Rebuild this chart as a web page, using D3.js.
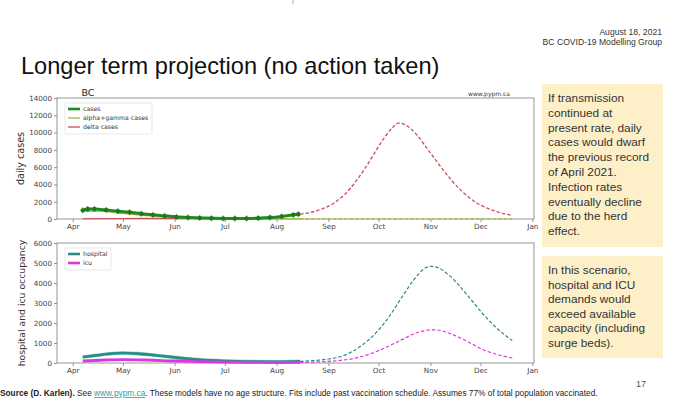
<!DOCTYPE html>
<html><head><meta charset="utf-8">
<script src="https://cdn.jsdelivr.net/npm/d3@7/dist/d3.min.js"></script>
<style>
html,body{margin:0;padding:0;background:#fff;}
svg{display:block;}
</style></head>
<body>
<svg id="c" width="678" height="406"></svg>
<script>
// ---------------- data ----------------
const monthTicks = ["2021-04-01","2021-05-01","2021-06-01","2021-07-01","2021-08-01","2021-09-01","2021-10-01","2021-11-01","2021-12-01","2022-01-01"];
const casesYTicks = [0,2000,4000,6000,8000,10000,12000,14000];
const hospYTicks = [0,1000,2000,3000,4000,5000,6000];

// reported daily cases (weekly markers + thick line)
const casesData = [["2021-04-07",1000],["2021-04-10",1150],["2021-04-14",1150],["2021-04-21",1050],["2021-04-28",900],["2021-05-05",780],["2021-05-12",620],["2021-05-19",480],["2021-05-26",360],["2021-06-02",250],["2021-06-09",180],["2021-06-16",130],["2021-06-23",90],["2021-06-30",65],["2021-07-07",55],["2021-07-14",65],["2021-07-21",100],["2021-07-28",170],["2021-08-04",300],["2021-08-11",480],["2021-08-14",560]];
// alpha+gamma model
const alphaFit = [["2021-04-07",850],["2021-04-15",900],["2021-05-01",650],["2021-05-15",400],["2021-06-01",180],["2021-06-15",80],["2021-07-01",30],["2021-07-15",15],["2021-08-01",10],["2021-08-15",10]];
const alphaProj = [["2021-08-15",10],["2021-09-15",8],["2021-10-15",8],["2021-11-15",6],["2021-12-20",5]];
// delta model
const deltaFit = [["2021-04-07",30],["2021-05-01",60],["2021-06-01",80],["2021-07-01",50],["2021-07-15",90],["2021-08-01",250],["2021-08-15",560]];
const deltaProj = [["2021-08-15",560],["2021-08-21",750],["2021-08-28",1150],["2021-09-04",1800],["2021-09-11",2900],["2021-09-18",4500],["2021-09-25",6500],["2021-10-02",8700],["2021-10-09",10500],["2021-10-13",11100],["2021-10-17",10900],["2021-10-24",9700],["2021-10-31",7900],["2021-11-07",6100],["2021-11-14",4400],["2021-11-21",3000],["2021-11-28",1950],["2021-12-05",1250],["2021-12-12",780],["2021-12-20",420]];
// hospital occupancy
const hospFit = [["2021-04-07",300],["2021-04-15",380],["2021-04-22",450],["2021-05-01",500],["2021-05-10",470],["2021-05-20",390],["2021-06-01",280],["2021-06-15",170],["2021-07-01",100],["2021-07-15",70],["2021-08-01",60],["2021-08-15",80]];
const hospProj = [["2021-08-15",80],["2021-08-22",115],["2021-09-01",200],["2021-09-08",310],["2021-09-15",560],["2021-09-22",950],["2021-10-01",1650],["2021-10-08",2400],["2021-10-15",3300],["2021-10-22",4150],["2021-10-29",4750],["2021-11-01",4830],["2021-11-05",4780],["2021-11-12",4400],["2021-11-19",3800],["2021-11-26",3100],["2021-12-03",2400],["2021-12-10",1800],["2021-12-20",1120]];
// ICU occupancy
const icuFit = [["2021-04-07",100],["2021-04-20",150],["2021-05-01",170],["2021-05-15",150],["2021-06-01",100],["2021-06-15",70],["2021-07-01",45],["2021-07-15",30],["2021-08-01",25],["2021-08-15",30]];
const icuProj = [["2021-08-15",30],["2021-08-22",45],["2021-09-01",80],["2021-09-08",130],["2021-09-15",210],["2021-09-22",350],["2021-10-01",620],["2021-10-08",880],["2021-10-15",1170],["2021-10-22",1450],["2021-10-29",1630],["2021-11-01",1660],["2021-11-05",1650],["2021-11-12",1500],["2021-11-19",1250],["2021-11-26",950],["2021-12-03",650],["2021-12-10",450],["2021-12-20",250]];

const box1Lines = ["If transmission","continued at","present rate, daily","cases would dwarf","the previous record","of April 2021.","Infection rates","eventually decline","due to the herd","effect."];
const box2Lines = ["In this scenario,","hospital and ICU","demands would","exceed available","capacity (including","surge beds)."];

// ---------------- drawing ----------------
const parse = d3.timeParse("%Y-%m-%d");
const svg = d3.select("#c");
const chartFont = "DejaVu Sans, sans-serif";
const slideFont = "Liberation Sans, Arial, sans-serif";

svg.append("rect").attr("width",678).attr("height",406).attr("fill","#fff");

const x = d3.scaleTime()
  .domain([new Date(2021,2,22,14), new Date(2022,0,2)])
  .range([57,534]);
const yTop = d3.scaleLinear().domain([0,14000]).range([219,98]);
const yBot = d3.scaleLinear().domain([0,6000]).range([363,243]);

const C = {cases:"#1f8a1f", alpha:"#a8b836", delta:"#c9505a", hosp:"#2c8c82", icu:"#dd38dd"};

function panel(y, yTicks, ylabel, labelY, fs){
  const g = svg.append("g");
  const [y0,y1] = y.range();
  const xa = g.append("g").attr("transform",`translate(0,${y0})`)
    .call(d3.axisBottom(x).tickValues(monthTicks.map(parse)).tickFormat(d3.timeFormat("%b")).tickSizeOuter(0).tickSizeInner(3).tickPadding(2));
  const ya = g.append("g").attr("transform",`translate(57,0)`)
    .call(d3.axisLeft(y).tickValues(yTicks).tickFormat(d3.format("d")).tickSizeOuter(0).tickSizeInner(3).tickPadding(2));
  [xa,ya].forEach(a=>{
    a.select(".domain").remove();
    a.selectAll("line").attr("stroke","#777").attr("stroke-width",0.8);
    a.selectAll("text").attr("fill","#444").style("font-family",chartFont).style("font-size","7.2px");
  });
  g.append("rect").attr("x",57).attr("y",y1).attr("width",477).attr("height",y0-y1)
    .attr("fill","none").attr("stroke","#8a8a8a").attr("stroke-width",0.9);
  g.append("text").attr("transform",`translate(${labelY},${(y0+y1)/2}) rotate(-90)`)
    .attr("text-anchor","middle").attr("fill","#333")
    .style("font-family",chartFont).style("font-size",fs).text(ylabel);
  return g;
}

const gTop = panel(yTop, casesYTicks, "daily cases", 24, "9.6px");
const gBot = panel(yBot, hospYTicks, "hospital and icu occupancy", 25, "9.3px");

function line(y){ return d3.line().x(d=>x(parse(d[0]))).y(d=>y(d[1])).curve(d3.curveMonotoneX); }

// top panel series
const lt = line(yTop);
gTop.append("path").attr("d",lt(deltaFit)).attr("fill","none").attr("stroke",C.delta).attr("stroke-width",1.2);
gTop.append("path").attr("d",lt(alphaFit)).attr("fill","none").attr("stroke",C.alpha).attr("stroke-width",1.2);
gTop.append("path").attr("d",lt(casesData)).attr("fill","none").attr("stroke",C.cases).attr("stroke-width",3);
gTop.selectAll("circle.c").data(casesData).join("circle")
  .attr("cx",d=>x(parse(d[0]))).attr("cy",d=>yTop(d[1])).attr("r",2.2).attr("fill","#1a7a1a");
gTop.selectAll("line.eb").data(casesData).join("line")
  .attr("x1",d=>x(parse(d[0]))).attr("x2",d=>x(parse(d[0])))
  .attr("y1",d=>yTop(d[1])-3).attr("y2",d=>yTop(d[1])+3).attr("stroke","#1a7a1a").attr("stroke-width",0.8);
gTop.append("path").attr("d",lt(alphaProj)).attr("fill","none").attr("stroke",C.alpha).attr("stroke-width",1.2).attr("stroke-dasharray","3.5,2");
gTop.append("path").attr("d",lt(deltaProj)).attr("fill","none").attr("stroke",C.delta).attr("stroke-width",1.3).attr("stroke-dasharray","3.5,2");

// bottom panel series
const lb = line(yBot);
gBot.append("path").attr("d",lb(hospFit)).attr("fill","none").attr("stroke","#7fd6d0").attr("stroke-width",3.6);
gBot.append("path").attr("d",lb(hospFit)).attr("fill","none").attr("stroke",C.hosp).attr("stroke-width",2.6);
gBot.append("path").attr("d",lb(icuFit)).attr("fill","none").attr("stroke",C.icu).attr("stroke-width",2.8);
gBot.append("path").attr("d",lb(hospProj)).attr("fill","none").attr("stroke",C.hosp).attr("stroke-width",1.2).attr("stroke-dasharray","3.5,2");
gBot.append("path").attr("d",lb(icuProj)).attr("fill","none").attr("stroke",C.icu).attr("stroke-width",1.2).attr("stroke-dasharray","3.5,2");

// panel annotations
svg.append("text").attr("x",88).attr("y",96).attr("text-anchor","middle").attr("fill","#222")
  .style("font-family",chartFont).style("font-size","9.5px").text("BC");
svg.append("text").attr("x",510).attr("y",96).attr("text-anchor","end").attr("fill","#333")
  .style("font-family",chartFont).style("font-size","6px").text("www.pypm.ca");

function legend(items, x0, y0, w){
  const g = svg.append("g");
  g.append("rect").attr("x",x0).attr("y",y0).attr("width",w).attr("height",items.length*9+4)
    .attr("rx",1.5).attr("fill","#fff").attr("stroke","#ddd").attr("stroke-width",0.7);
  items.forEach((it,i)=>{
    const yy = y0+6+i*9;
    g.append("line").attr("x1",x0+3).attr("x2",x0+15).attr("y1",yy).attr("y2",yy)
      .attr("stroke",it.color).attr("stroke-width",it.w);
    g.append("text").attr("x",x0+18).attr("y",yy+2).attr("fill","#333")
      .style("font-family",chartFont).style("font-size","6.2px").text(it.label);
  });
}
legend([{label:"cases",color:C.cases,w:2.6},{label:"alpha+gamma cases",color:C.alpha,w:1.3},{label:"delta cases",color:C.delta,w:1.3}],65,103,87);
legend([{label:"hospital",color:C.hosp,w:2.6},{label:"icu",color:C.icu,w:2.6}],65,248,46);

// slide text
svg.append("line").attr("x1",293).attr("x2",293).attr("y1",0).attr("y2",4).attr("stroke","#999").attr("stroke-width",0.8);
svg.append("text").attr("x",662).attr("y",35).attr("text-anchor","end").attr("fill","#333")
  .style("font-family",slideFont).style("font-size","8.6px").text("August 18, 2021");
svg.append("text").attr("x",662).attr("y",45).attr("text-anchor","end").attr("fill","#333")
  .style("font-family",slideFont).style("font-size","8.6px").text("BC COVID-19 Modelling Group");
svg.append("text").attr("x",21).attr("y",74).attr("fill","#111")
  .style("font-family",slideFont).style("font-size","23.6px").text("Longer term projection (no action taken)");

function textBox(lines, x0, y0, w, h, base, step){
  svg.append("rect").attr("x",x0).attr("y",y0).attr("width",w).attr("height",h).attr("fill","#fdf0c9");
  lines.forEach((t,i)=>{
    svg.append("text").attr("x",x0+6).attr("y",base+i*step).attr("fill","#333")
      .style("font-family",slideFont).style("font-size","11.8px").text(t);
  });
}
textBox(box1Lines,542,84,121,163,102,14.8);
textBox(box2Lines,542,256,121,102,274,14.6);

const foot = svg.append("text").attr("x",0).attr("y",396).attr("fill","#222")
  .style("font-family",slideFont).style("font-size","8.3px");
foot.append("tspan").attr("font-weight","bold").text("Source (D. Karlen).");
foot.append("tspan").text(" See ");
foot.append("tspan").attr("fill","#2aa0a8").attr("text-decoration","underline").text("www.pypm.ca");
foot.append("tspan").text(". These models have no age structure. Fits include past vaccination schedule. Assumes 77% of total population vaccinated.");
svg.append("text").attr("x",636).attr("y",387).attr("fill","#555")
  .style("font-family",slideFont).style("font-size","9px").text("17");
</script>
</body></html>
